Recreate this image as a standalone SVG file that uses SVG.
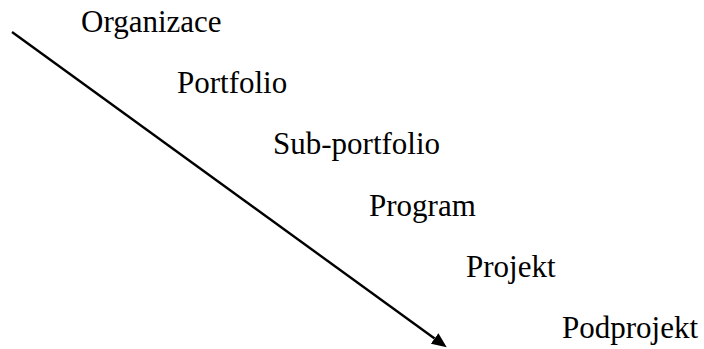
<svg xmlns="http://www.w3.org/2000/svg" width="704" height="349" viewBox="0 0 704 349">
  <style>
    .lvl { font-family: 'Liberation Serif', 'DejaVu Serif', serif; font-size: 31px; fill: #000; }
    .axis { stroke: #000; stroke-width: 2.4; fill: none; }
  </style>
  <defs>
    <marker id="head" markerUnits="userSpaceOnUse" markerWidth="15" markerHeight="13" refX="0" refY="6.5" orient="auto">
      <path d="M0,0 L15,6.5 L0,13 Z" fill="#000"/>
    </marker>
  </defs>
  <rect width="704" height="349" fill="#fff"/>
  <g id="connectors">
    <line class="axis" x1="12" y1="32" x2="434.6" y2="338.5" marker-end="url(#head)"/>
  </g>
  <g id="organizace"><text class="lvl" x="81" y="32">Organizace</text></g>
  <g id="portfolio"><text class="lvl" x="177" y="93">Portfolio</text></g>
  <g id="sub-portfolio"><text class="lvl" x="273" y="154">Sub-portfolio</text></g>
  <g id="program"><text class="lvl" x="369" y="216">Program</text></g>
  <g id="projekt"><text class="lvl" x="466" y="277">Projekt</text></g>
  <g id="podprojekt"><text class="lvl" x="562" y="338">Podprojekt</text></g>
</svg>
